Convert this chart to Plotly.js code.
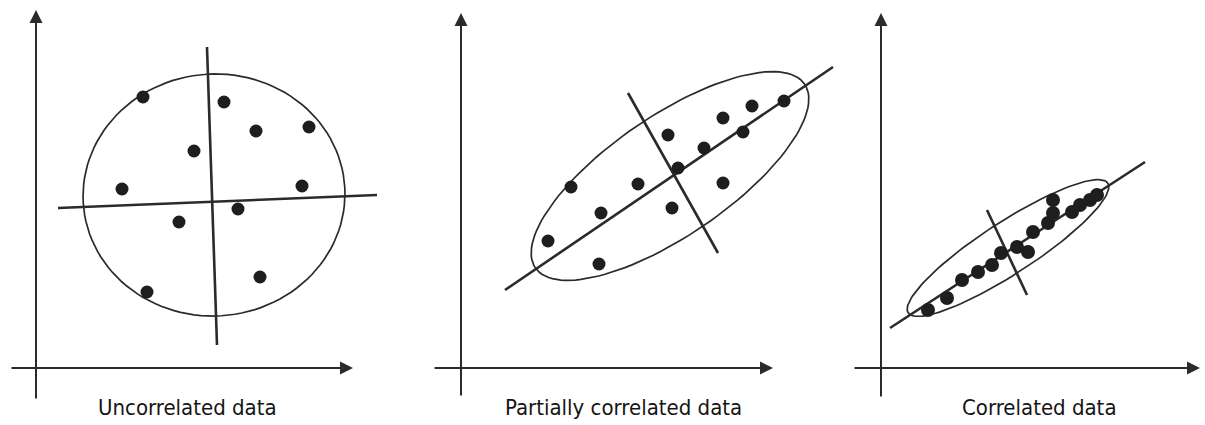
<!DOCTYPE html>
<html>
<head>
<meta charset="utf-8">
<script src="https://cdn.plot.ly/plotly-3.0.1.min.js"></script>
<style>
  html, body { margin: 0; padding: 0; background: #fff; }
  #chart { width: 1205px; height: 425px; }
</style>
</head>
<body>
<div id="chart"></div>
<script>
// ---- Uncorrelated data ----
const uncorrX = [10.7, 18.8, 22.0, 27.3, 15.8, 8.6, 26.6, 20.2, 14.3, 22.4, 11.1];
const uncorrY = [27.1, 26.6, 23.7, 24.1, 21.7, 17.9, 18.2, 15.9, 14.6, 9.1, 7.6];
const uncorrMajorX = [2.2, 34.1];
const uncorrMajorY = [16.0, 17.3];
const uncorrMinorX = [17.1, 18.1];
const uncorrMinorY = [32.1, 2.3];
// centre x, centre y, semi-major, semi-minor, tilt (degrees)
const uncorrEllipse = [17.8, 17.3, 13.1, 12.1, 3.5];

// ---- Partially correlated data ----
const partialX = [11.0, 8.7, 14.0, 13.8, 17.7, 20.7, 21.7, 21.1, 24.3, 26.2, 26.2, 28.2, 29.1, 32.3];
const partialY = [18.1, 12.7, 15.5, 10.4, 18.4, 23.3, 20.0, 16.0, 22.0, 25.0, 18.5, 23.6, 26.2, 26.7];
const partialMajorX = [4.4, 37.2];
const partialMajorY = [7.8, 30.1];
const partialMinorX = [16.7, 25.7];
const partialMinorY = [27.5, 11.5];
const partialEllipse = [20.9, 19.2, 16.3, 6.0, 34.3];

// ---- Correlated data ----
const corrX = [4.7, 6.6, 8.1, 9.7, 11.1, 12.0, 13.6, 14.7, 15.2, 16.7, 17.2, 17.2, 19.1, 19.9, 20.9, 21.6];
const corrY = [5.8, 7.0, 8.8, 9.6, 10.3, 11.5, 12.1, 11.6, 13.6, 14.5, 15.5, 16.8, 15.6, 16.3, 16.8, 17.3];
const corrMajorX = [0.9, 26.4];
const corrMajorY = [4.0, 20.6];
const corrMinorX = [10.6, 14.6];
const corrMinorY = [15.8, 7.3];
const corrEllipse = [12.7, 12.0, 11.9, 2.6, 33.0];

const panelTitles = ['Uncorrelated data', 'Partially correlated data', 'Correlated data'];

// axis arrow extents: [xTail, xHead, yTail, yHead]
const axisExtents = [
  [-2.6, 31.7, -3.2, 35.8],
  [-2.8, 31.2, -2.9, 35.5],
  [-2.8, 31.9, -3.0, 35.5]
];

const INK = '#2b2b2b';

function ellipseOutline(e) {
  const [cx, cy, a, b, deg] = e;
  const t = deg * Math.PI / 180;
  const xs = [], ys = [];
  for (let i = 0; i <= 120; i++) {
    const p = 2 * Math.PI * i / 120;
    const u = a * Math.cos(p), v = b * Math.sin(p);
    xs.push(cx + u * Math.cos(t) - v * Math.sin(t));
    ys.push(cy + u * Math.sin(t) + v * Math.cos(t));
  }
  return { x: xs, y: ys };
}

const panels = [
  { ax: '', px: uncorrX, py: uncorrY, mx: uncorrMajorX, my: uncorrMajorY, nx: uncorrMinorX, ny: uncorrMinorY, el: uncorrEllipse, dot: 13 },
  { ax: '2', px: partialX, py: partialY, mx: partialMajorX, my: partialMajorY, nx: partialMinorX, ny: partialMinorY, el: partialEllipse, dot: 13 },
  { ax: '3', px: corrX, py: corrY, mx: corrMajorX, my: corrMajorY, nx: corrMinorX, ny: corrMinorY, el: corrEllipse, dot: 14 }
];

const traces = [];
const annotations = [];

panels.forEach((p, i) => {
  const xa = 'x' + p.ax, ya = 'y' + p.ax;
  const ell = ellipseOutline(p.el);
  traces.push({ x: ell.x, y: ell.y, xaxis: xa, yaxis: ya, mode: 'lines',
    line: { color: INK, width: 1.7 }, hoverinfo: 'skip' });
  traces.push({ x: p.mx, y: p.my, xaxis: xa, yaxis: ya, mode: 'lines',
    line: { color: INK, width: 2.6 }, hoverinfo: 'skip' });
  traces.push({ x: p.nx, y: p.ny, xaxis: xa, yaxis: ya, mode: 'lines',
    line: { color: INK, width: 2.6 }, hoverinfo: 'skip' });
  traces.push({ x: p.px, y: p.py, xaxis: xa, yaxis: ya, mode: 'markers',
    marker: { color: '#1e1e1e', size: p.dot }, hoverinfo: 'x+y' });

  const [xt, xh, yt, yh] = axisExtents[i];
  // horizontal axis arrow
  annotations.push({ xref: xa, yref: ya, axref: xa, ayref: ya,
    x: xh, y: 0, ax: xt, ay: 0, text: '', showarrow: true,
    arrowhead: 2, arrowsize: 1.3, arrowwidth: 2, arrowcolor: INK });
  // vertical axis arrow
  annotations.push({ xref: xa, yref: ya, axref: xa, ayref: ya,
    x: 0, y: yh, ax: 0, ay: yt, text: '', showarrow: true,
    arrowhead: 2, arrowsize: 1.3, arrowwidth: 2, arrowcolor: INK });
});

const titleX = [15.1, 16.2, 15.8];
panelTitles.forEach((t, i) => {
  const ax = i === 0 ? '' : String(i + 1);
  annotations.push({ xref: 'x' + ax, yref: 'y' + ax, x: titleX[i], y: -3.9,
    text: t, showarrow: false, xanchor: 'center', yanchor: 'middle',
    font: { family: 'Liberation Sans Narrow, DejaVu Sans Condensed, Arial Narrow, Liberation Sans, sans-serif',
            size: 22, color: '#151515' } });
});

const hidden = { visible: false, fixedrange: true, showgrid: false, zeroline: false };

const layout = {
  width: 1205, height: 425,
  margin: { l: 0, r: 0, t: 0, b: 0 },
  paper_bgcolor: '#fff', plot_bgcolor: 'rgba(0,0,0,0)',
  showlegend: false,
  xaxis:  Object.assign({ domain: [0, 400 / 1205], range: [-3.6, 36.4] }, hidden),
  yaxis:  Object.assign({ domain: [0, 1], range: [-5.7, 36.8], anchor: 'x' }, hidden),
  xaxis2: Object.assign({ domain: [400 / 1205, 845 / 1205], range: [-6.1, 38.4], anchor: 'y2' }, hidden),
  yaxis2: Object.assign({ domain: [0, 1], range: [-5.7, 36.8], anchor: 'x2' }, hidden),
  xaxis3: Object.assign({ domain: [845 / 1205, 1], range: [-3.6, 32.4], anchor: 'y3' }, hidden),
  yaxis3: Object.assign({ domain: [0, 1], range: [-5.7, 36.8], anchor: 'x3' }, hidden),
  annotations: annotations
};

Plotly.newPlot('chart', traces, layout, { displayModeBar: false, staticPlot: true });
</script>
</body>
</html>
